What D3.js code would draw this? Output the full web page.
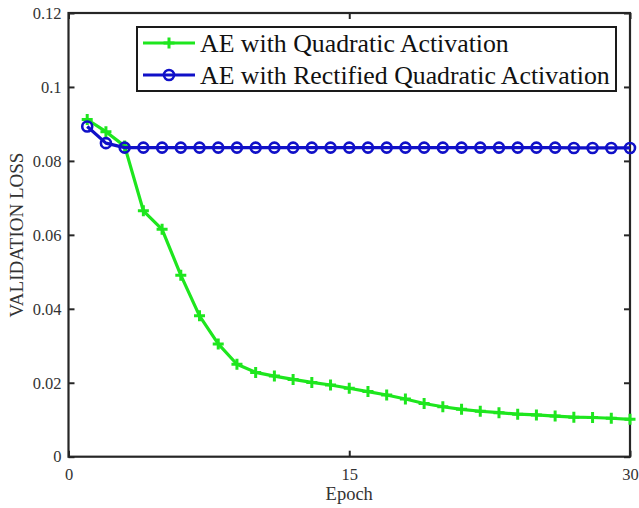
<!DOCTYPE html>
<html>
<head>
<meta charset="utf-8">
<script src="https://cdn.jsdelivr.net/npm/d3@7"></script>
<style>
  html, body { margin: 0; padding: 0; background: #fff; }
  svg { display: block; }
  text { font-family: "Liberation Serif", "Times New Roman", serif; }
</style>
</head>
<body>
<svg id="chart" width="639" height="508"></svg>
<script>
const epochs = d3.range(1, 31);
const quadratic = [0.0912, 0.0879, 0.0840, 0.0665, 0.0615, 0.0491, 0.0381, 0.0305, 0.0250, 0.0228,
                   0.0218, 0.0209, 0.0201, 0.0194, 0.0185, 0.0176, 0.0167, 0.0156, 0.0144, 0.0135,
                   0.0128, 0.0123, 0.0119, 0.0115, 0.0113, 0.0110, 0.0107, 0.0106, 0.0104, 0.0101];
const rectified = [0.0893, 0.0848, 0.0836, 0.0836, 0.0836, 0.0836, 0.0836, 0.0836, 0.0836, 0.0836,
                   0.0836, 0.0836, 0.0836, 0.0836, 0.0836, 0.0836, 0.0836, 0.0836, 0.0836, 0.0836,
                   0.0836, 0.0836, 0.0836, 0.0836, 0.0836, 0.0836, 0.0835, 0.0835, 0.0835, 0.0835];
const xTicks = [0, 15, 30];
const yTicks = [0, 0.02, 0.04, 0.06, 0.08, 0.1, 0.12];
const seriesNames = ["AE with Quadratic Activation", "AE with Rectified Quadratic Activation"];

const svg = d3.select("#chart");
const L = 68.5, R = 630, T = 13, B = 456.7;
const x = d3.scaleLinear().domain([0, 30]).range([L, R]);
const y = d3.scaleLinear().domain([0, 0.12]).range([B, T]);

const green = "#1ee61e", blue = "#1010c8", axisCol = "#262626", textCol = "#333";

// axes with inward ticks
const fmt = d => d === 0 ? "0" : String(+d.toFixed(2));
const gx = svg.append("g").attr("transform", `translate(0,${B})`)
  .call(d3.axisBottom(x).tickValues(xTicks).tickSizeInner(-6).tickSizeOuter(0).tickPadding(12).tickFormat(fmt));
const gxt = svg.append("g").attr("transform", `translate(0,${T})`)
  .call(d3.axisTop(x).tickValues(xTicks).tickSizeInner(-6).tickSizeOuter(0).tickFormat(""));
const gy = svg.append("g").attr("transform", `translate(${L},0)`)
  .call(d3.axisLeft(y).tickValues(yTicks).tickSizeInner(-6).tickSizeOuter(0).tickPadding(7).tickFormat(fmt));
const gyr = svg.append("g").attr("transform", `translate(${R},0)`)
  .call(d3.axisRight(y).tickValues(yTicks).tickSizeInner(-6).tickSizeOuter(0).tickFormat(""));
[gx, gxt, gy, gyr].forEach(g => {
  g.select(".domain").remove();
  g.selectAll(".tick line").attr("stroke", axisCol).attr("stroke-width", 2);
  g.selectAll("text").attr("fill", textCol).style("font-size", "16.5px").style("font-family", '"Liberation Serif", serif');
});

svg.append("rect").attr("x", L).attr("y", T).attr("width", R - L).attr("height", B - T)
  .attr("fill", "none").attr("stroke", axisCol).attr("stroke-width", 2.2);

// labels
svg.append("text").attr("x", (L + R) / 2).attr("y", 499.5).attr("text-anchor", "middle")
  .attr("fill", textCol).style("font-size", "18.5px").text("Epoch");
svg.append("text").attr("transform", `translate(23,235) rotate(-90)`).attr("text-anchor", "middle")
  .attr("fill", textCol).style("font-size", "19px").text("VALIDATION LOSS");

// lines
const line = d3.line().x((d, i) => x(epochs[i])).y(d => y(d));
svg.append("path").datum(quadratic).attr("d", line).attr("fill", "none")
  .attr("stroke", green).attr("stroke-width", 3.2).attr("stroke-linejoin", "round");
svg.append("g").selectAll("path").data(quadratic).join("path")
  .attr("d", (d, i) => { const cx = x(epochs[i]), cy = y(d); return `M${cx - 5.5},${cy}H${cx + 5.5}M${cx},${cy - 5.5}V${cy + 5.5}`; })
  .attr("stroke", green).attr("stroke-width", 3);

svg.append("path").datum(rectified).attr("d", line).attr("fill", "none")
  .attr("stroke", blue).attr("stroke-width", 3.2).attr("stroke-linejoin", "round");
svg.append("g").selectAll("circle").data(rectified).join("circle")
  .attr("cx", (d, i) => x(epochs[i])).attr("cy", d => y(d)).attr("r", 5)
  .attr("fill", "none").attr("stroke", blue).attr("stroke-width", 2.6);

// legend
const lg = svg.append("g");
lg.append("rect").attr("x", 137).attr("y", 27).attr("width", 479).attr("height", 64)
  .attr("fill", "#fff").attr("stroke", "#1a1a1a").attr("stroke-width", 2);
const rows = [43, 75];
[green, blue].forEach((c, i) => {
  const ry = rows[i];
  lg.append("line").attr("x1", 143).attr("x2", 195).attr("y1", ry).attr("y2", ry)
    .attr("stroke", c).attr("stroke-width", 3.2);
  if (i === 0) {
    lg.append("path").attr("d", `M${169 - 5.5},${ry}H${169 + 5.5}M169,${ry - 5.5}V${ry + 5.5}`)
      .attr("stroke", c).attr("stroke-width", 3);
  } else {
    lg.append("circle").attr("cx", 169).attr("cy", ry).attr("r", 5)
      .attr("fill", "none").attr("stroke", c).attr("stroke-width", 2.6);
  }
  lg.append("text").attr("x", 200).attr("y", ry + 8.5).attr("fill", "#111")
    .style("font-size", "25.8px").text(seriesNames[i]);
});
</script>
</body>
</html>
